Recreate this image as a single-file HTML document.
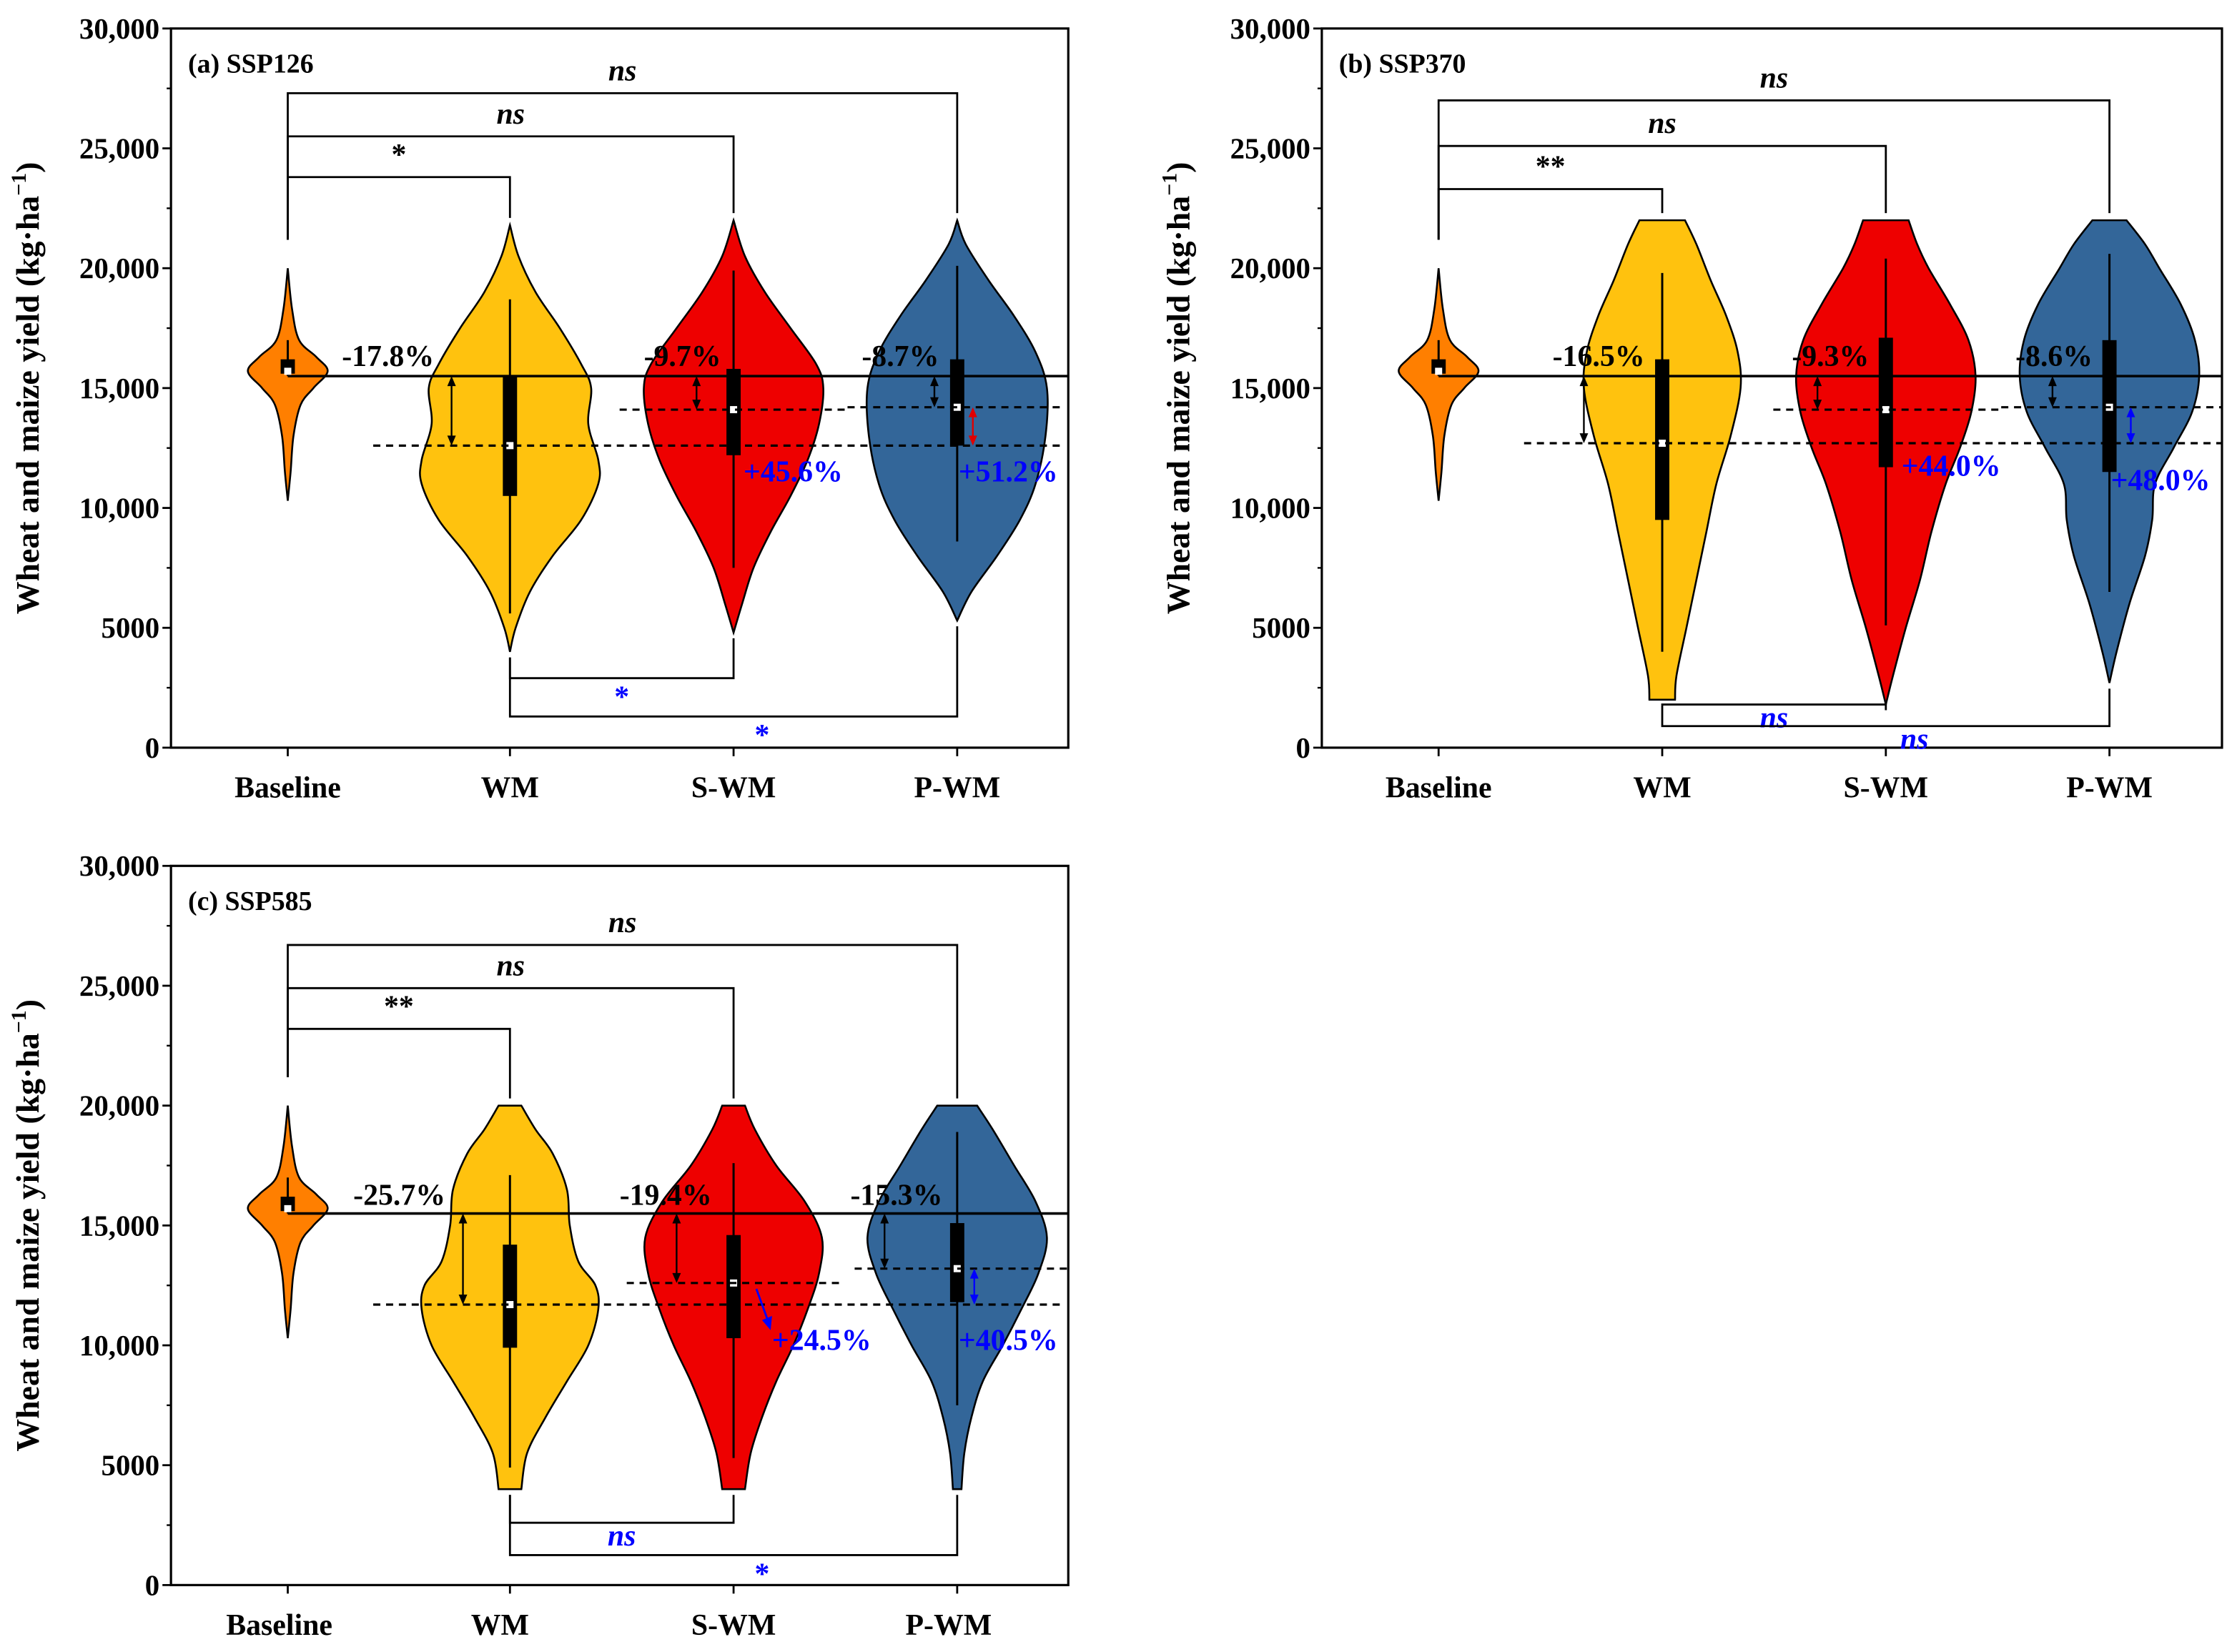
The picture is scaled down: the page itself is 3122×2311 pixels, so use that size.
<!DOCTYPE html>
<html><head><meta charset="utf-8"><style>
html,body{margin:0;padding:0;background:#fff}
svg{display:block}
text{font-family:"Liberation Serif",serif;font-weight:bold}
</style></head><body>
<svg id="chart" width="3122" height="2311" viewBox="0 0 1567 1160" xmlns="http://www.w3.org/2000/svg"></svg>
<script>
const categories = ["Baseline","WM","S-WM","P-WM"];
const colors = ["#FF7F00","#FFC20E","#EE0000","#336699"];
const yTicks = [0,5000,10000,15000,20000,25000,30000];
const yTickLabels = ["0","5000","10,000","15,000","20,000","25,000","30,000"];
const panelTitles = ["(a) SSP126","(b) SSP370","(c) SSP585"];
// violin profiles: [yield, half-width density]
const baselineProfile = [[10300,0],[11500,2],[13000,4],[14300,9],[15000,18],[15700,28],[16300,20],[17000,8],[18300,3],[20000,0]];
const profilesA = [baselineProfile,
 [[4000,0],[5000,4],[6500,14],[8000,30],[9500,50],[11000,62],[12000,62],[13500,55],[15000,57],[16000,50],[17500,35],[19000,18],[20500,6],[21800,0]],
 [[4800,0],[6000,6],[7500,14],[9000,26],[10500,40],[12000,52],[13500,60],[15000,63],[16000,58],[17500,40],[19000,22],[20500,8],[22000,0]],
 [[5300,0],[6500,10],[8000,28],[9500,44],[11000,55],[13000,62],[15000,63],[16500,55],[18000,40],[19500,22],[21000,6],[22000,0]]];
const profilesB = [baselineProfile,
 [[2000,9],[3000,10],[5000,17],[7000,24],[9000,31],[11000,38],[13000,48],[15000,55],[16500,53],[18000,45],[19500,34],[21000,24],[22000,16]],
 [[1800,0],[3000,5],[5000,14],[7000,24],[9000,32],[11000,42],[12500,52],[14000,60],[15500,63],[17000,58],[18500,45],[20000,30],[21000,22],[22000,16]],
 [[2700,0],[4000,5],[6000,14],[8000,25],[9500,30],[11000,32],[12500,45],[14000,58],[15500,63],[17000,60],[18500,50],[20000,35],[21000,25],[22000,12]]];
const profilesC = [baselineProfile,
 [[4000,8],[5500,12],[7000,25],[8500,40],[10000,55],[11500,62],[12500,60],[13500,48],[15000,42],[16500,40],[18000,30],[19000,18],[20000,8]],
 [[4000,8],[5500,12],[7000,20],[8500,30],[10000,42],[11500,52],[13000,60],[14500,62],[16000,50],[17500,30],[19000,15],[20000,8]],
 [[4000,3],[5500,5],[7000,10],[8500,18],[10000,32],[11500,45],[13000,57],[14500,63],[16000,55],[17500,40],[19000,25],[20000,14]]];
// box stats: [whiskerLow, q1, median, q3, whiskerHigh]
const boxesA = [[15500,15600,15700,16200,17000],[5600,10500,12600,15500,18700],[7500,12200,14100,15800,19900],[8600,12600,14200,16200,20100]];
const boxesB = [[15500,15600,15700,16200,17000],[4000,9500,12700,16200,19800],[5100,11700,14100,17100,20400],[6500,11500,14200,17000,20600]];
const boxesC = [[15500,15600,15700,16200,17000],[4900,9900,11700,14200,17100],[5300,10300,12600,14600,17600],[7500,11800,13200,15100,18900]];
const baselineMean = 15500;
const changeLabelsA = ["-17.8%","-9.7%","-8.7%"], gainLabelsA = ["+45.6%","+51.2%"];
const changeLabelsB = ["-16.5%","-9.3%","-8.6%"], gainLabelsB = ["+44.0%","+48.0%"];
const changeLabelsC = ["-25.7%","-19.4%","-15.3%"], gainLabelsC = ["+24.5%","+40.5%"];
const meansA = [12600,14100,14200], meansB = [12700,14100,14200], meansC = [11700,12600,13200];
const topBracketY = [[23800,25500,27300],[23300,25100,27000],[23200,24900,26700]];
const topSig = [["*","ns","ns"],["**","ns","ns"],["**","ns","ns"]];
const botBracketY = [[2900,1300],[1800,900],[2600,1250]];
const botSig = [["*","*"],["ns","ns"],["ns","*"]];

const NS="http://www.w3.org/2000/svg";
const svg=document.getElementById('chart');
function el(tag,attrs,parent){const e=document.createElementNS(NS,tag);for(const k in attrs)e.setAttribute(k,attrs[k]);(parent||svg).appendChild(e);return e;}
function txt(s,x,y,size,attrs,parent){const t=el('text',Object.assign({x:x,y:y,'font-size':size},attrs||{}),parent);t.textContent=s;return t;}
function smooth(pts){let d='M'+pts[0][0]+','+pts[0][1];for(let i=0;i<pts.length-1;i++){const p0=pts[Math.max(i-1,0)],p1=pts[i],p2=pts[i+1],p3=pts[Math.min(i+2,pts.length-1)];
 const c1=[p1[0]+(p2[0]-p0[0])/6,p1[1]+(p2[1]-p0[1])/6],c2=[p2[0]-(p3[0]-p1[0])/6,p2[1]-(p3[1]-p1[1])/6];d+=' C'+c1+' '+c2+' '+p2;}return d;}
function arrowV(g,x,y1,y2,color,w){el('line',{x1:x,y1:y1+5,x2:x,y2:y2-5,stroke:color,'stroke-width':w||1.2},g);
 el('path',{d:`M${x-3},${y1+7}L${x},${y1}L${x+3},${y1+7}Z`,fill:color},g);el('path',{d:`M${x-3},${y2-7}L${x},${y2}L${x+3},${y2-7}Z`,fill:color},g);}

const panels=[
 {L:120,R:750,T:20,B:525,cx:[202,358,515,672],prof:profilesA,box:boxesA,ch:changeLabelsA,gn:gainLabelsA,mn:meansA,
  chPos:[[240,257],[452,257],[605,257]],gnPos:[[522,338],[673,338]],dash:[[262,745],[435,595],[595,745]],
  arr:[317,489,656],gArr:[683,'#e00000'],yl:[[202,560],[358,560],[515,560],[672,560]]},
 {L:928,R:1560,T:20,B:525,cx:[1010,1167,1324,1481],prof:profilesB,box:boxesB,ch:changeLabelsB,gn:gainLabelsB,mn:meansB,
  chPos:[[1090,257],[1258,257],[1415,257]],gnPos:[[1335,334],[1482,344]],dash:[[1070,1560],[1245,1405],[1405,1560]],
  arr:[1112,1276,1441],gArr:[1496,'#0000ff'],yl:[[1010,560],[1167,560],[1324,560],[1481,560]]},
 {L:120,R:750,T:608,B:1113,cx:[202,358,515,672],prof:profilesC,box:boxesC,ch:changeLabelsC,gn:gainLabelsC,mn:meansC,
  chPos:[[248,846],[435,846],[597,846]],gnPos:[[542,948],[673,948]],dash:[[262,745],[440,590],[600,750]],
  arr:[325,475,621],gArr:[684,'#0000ff'],yl:[[196,1148],[351,1148],[515,1148],[666,1148]]}];

panels.forEach((P,pi)=>{
 const g=el('g',{});
 
 
 const y=v=>P.B-(v/30000)*(P.B-P.T);
 const fr=el('rect',{x:P.L,y:P.T,width:P.R-P.L,height:P.B-P.T,fill:'none',stroke:'#000','stroke-width':1.6},g);
 
 yTicks.forEach((v,i)=>{el('line',{x1:P.L-6,x2:P.L,y1:y(v),y2:y(v),stroke:'#000','stroke-width':1.4},g);
  if(i<yTicks.length-1)el('line',{x1:P.L-3,x2:P.L,y1:y(v+2500),y2:y(v+2500),stroke:'#000','stroke-width':1.2},g);
  const t=txt(yTickLabels[i],P.L-8,y(v)+7,20.5,{'text-anchor':'end'},g);
  });
 const yt=txt('Wheat and maize yield (kg·ha',0,0,23,{transform:`translate(${P.L-93},${(P.T+P.B)/2}) rotate(-90)`,'text-anchor':'middle'},g);
 const sup=document.createElementNS(NS,'tspan');sup.setAttribute('dy','-9');sup.setAttribute('font-size','15');sup.textContent='−1';yt.appendChild(sup);
 const cl=document.createElementNS(NS,'tspan');cl.setAttribute('dy','9');cl.textContent=')';yt.appendChild(cl);
 
 const pt=txt(panelTitles[pi],P.L+12,P.T+31,19,{},g);
 
 P.cx.forEach((x,i)=>{el('line',{x1:x,x2:x,y1:P.B,y2:P.B+6,stroke:'#000','stroke-width':1.4},g);
  const t=txt(categories[i],P.yl[i][0],P.yl[i][1],21,{'text-anchor':'middle'},g);
  });
 P.prof.forEach((prof,i)=>{const x=P.cx[i];
  const right=prof.map(p=>[x+p[1],y(p[0])]);const left=prof.slice().reverse().map(p=>[x-p[1],y(p[0])]);
  let d=smooth(right);d+=' L'+left[0]+' '+smooth(left).slice(1).replace(/^[^C]*/,'')+'Z';
  const v=el('path',{d:d,fill:colors[i],stroke:'#000','stroke-width':1.3},g);
  
  const b=P.box[i];
  el('line',{x1:x,x2:x,y1:y(b[0]),y2:y(b[4]),stroke:'#000','stroke-width':1.5},g);
  const bx=el('rect',{x:x-5,y:y(b[3]),width:10,height:y(b[1])-y(b[3]),fill:'#000'},g);
  
  el('rect',{x:x-2.5,y:y(b[2])-2.5,width:5,height:5,fill:'#fff'},g);
 });
 const vTop=i=>y(P.prof[i][P.prof[i].length-1][0])-(i===0?20:5);
 const vBot=i=>y(P.prof[i][0][0])+4;
 el('line',{x1:P.cx[0],x2:P.R,y1:y(baselineMean),y2:y(baselineMean),stroke:'#000','stroke-width':1.8},g);
 P.mn.forEach((m,i)=>{el('line',{x1:P.dash[i][0],x2:P.dash[i][1],y1:y(m),y2:y(m),stroke:'#000','stroke-width':1.6,'stroke-dasharray':'5,4'},g);
  arrowV(g,P.arr[i],y(baselineMean),y(m),'#000');
  const t=txt(P.ch[i],P.chPos[i][0],P.chPos[i][1],21,{},g);});
 arrowV(g,P.gArr[0],y(P.mn[2]),y(P.mn[0]),P.gArr[1]);
 if(pi===2){el('line',{x1:531,y1:905,x2:539,y2:927,stroke:'#0000ff','stroke-width':1.4},g);el('path',{d:'M535,927L541,934L542,924Z',fill:'#0000ff'},g);}
 P.gn.forEach((s,i)=>{const t=txt(s,P.gnPos[i][0],P.gnPos[i][1],21,{fill:'#0000ff'},g);});
 topBracketY[pi].forEach((v,k)=>{const xe=P.cx[k+1],x0=P.cx[0],yy=y(v);
  el('path',{d:`M${x0},${vTop(0)}V${yy}H${xe}V${vTop(k+1)}`,fill:'none',stroke:'#000','stroke-width':1.4},g);
  const t=txt(topSig[pi][k],(x0+xe)/2,yy-9,21,{'text-anchor':'middle','font-style':topSig[pi][k]==='ns'?'italic':'normal'},g);
  });
 botBracketY[pi].forEach((v,k)=>{const x1=P.cx[1],x2=P.cx[k+2],yy=y(v);
  el('path',{d:`M${x1},${vBot(1)}V${yy}H${x2}V${vBot(k+2)}`,fill:'none',stroke:'#000','stroke-width':1.4},g);
  const t=txt(botSig[pi][k],(x1+x2)/2+(k?20:0),yy+(botSig[pi][k]==='ns'?16:20),21,{'text-anchor':'middle',fill:'#0000ff','font-style':botSig[pi][k]==='ns'?'italic':'normal'},g);
  });
});
</script>
</body></html>
